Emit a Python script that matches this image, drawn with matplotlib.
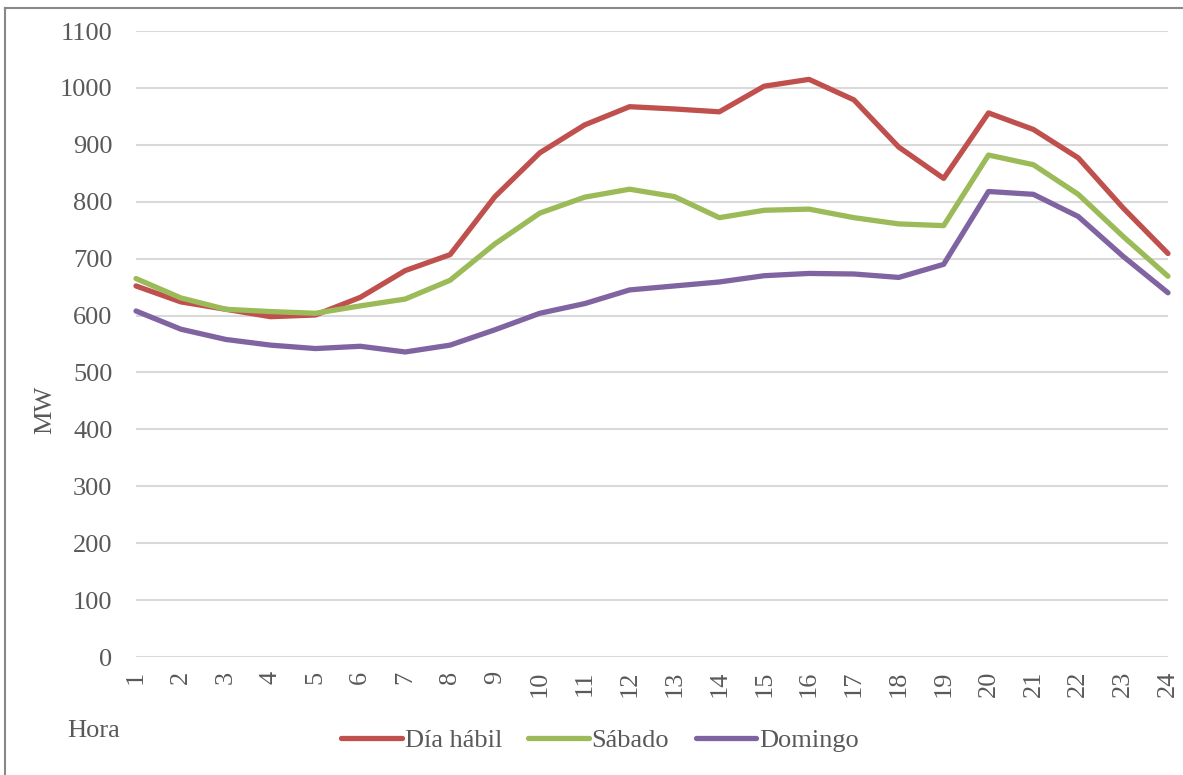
import matplotlib
matplotlib.use("Agg")
import matplotlib.pyplot as plt
from matplotlib.lines import Line2D

horas = list(range(1, 25))
dia_habil = [652, 624, 611, 598, 601, 632, 679, 707, 809, 886, 935, 967,
             963, 958, 1003, 1015, 979, 896, 841, 956, 927, 877, 789, 709]
sabado = [665, 631, 611, 607, 604, 617, 629, 662, 726, 780, 808, 822,
          809, 772, 785, 787, 772, 761, 758, 882, 865, 813, 739, 669]
domingo = [608, 576, 558, 548, 542, 546, 536, 548, 575, 604, 621, 645,
           652, 659, 670, 674, 673, 667, 690, 818, 813, 774, 704, 640]
y_ticks = list(range(0, 1101, 100))

plt.rcParams["font.family"] = ["Liberation Serif", "DejaVu Serif"]
TXT = "#595959"
FS = 19

fig = plt.figure(figsize=(11.83, 7.75), dpi=100)
ax = fig.add_axes([136 / 1183, 1 - 657 / 775, (1168 - 136) / 1183, (657 - 31) / 775])

ax.plot(horas, dia_habil, color="#C0504D", linewidth=3.8, label="Día hábil",
        solid_capstyle="round", clip_on=False)
ax.plot(horas, sabado, color="#9BBB59", linewidth=3.8, label="Sábado",
        solid_capstyle="round", clip_on=False)
ax.plot(horas, domingo, color="#8064A2", linewidth=3.8, label="Domingo",
        solid_capstyle="round", clip_on=False)

ax.set_xlim(1, 24)
ax.set_ylim(0, 1100)
ax.set_xticks(horas)
ax.set_xticklabels([str(h) for h in horas], rotation=90)
ax.set_yticks(y_ticks)
ax.tick_params(axis="both", length=0, labelsize=FS, labelcolor=TXT)
ax.tick_params(axis="y", pad=17)
ax.tick_params(axis="x", pad=10)
ax.grid(axis="y", color="#D9D9D9", linewidth=1.5)
ax.set_axisbelow(True)
for s in ax.spines.values():
    s.set_visible(False)

fig.text(45 / 1183, 1 - 410 / 775, "MW", rotation=90, fontsize=FS, color=TXT,
         ha="center", va="center")
fig.text(67 / 1183, 1 - 731 / 775, "Hora", fontsize=FS, color=TXT, ha="left", va="center")

leg = fig.legend(loc="center", bbox_to_anchor=(600 / 1183, 1 - 740 / 775), ncol=3,
                 frameon=False, fontsize=FS, handlelength=2.3, handletextpad=0.1,
                 columnspacing=1.0, labelcolor=TXT)

# marco del gráfico
fig.add_artist(Line2D([5 / 1183, 5 / 1183], [0, 1 - 8 / 775], color="#888888", linewidth=1.5))
fig.add_artist(Line2D([5 / 1183, 1], [1 - 8 / 775, 1 - 8 / 775], color="#888888", linewidth=1.5))

fig.savefig("out.png", dpi=100)
